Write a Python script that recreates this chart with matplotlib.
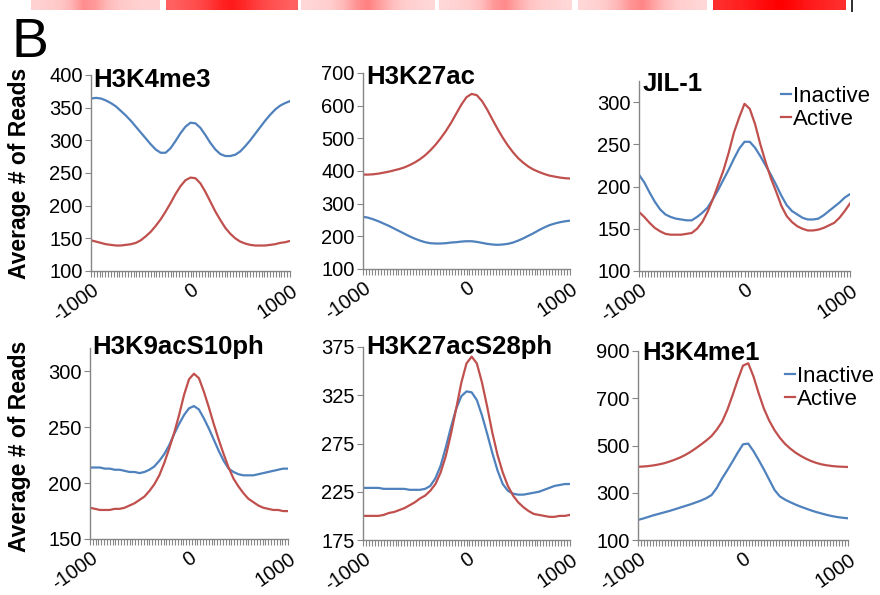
import numpy as np
import matplotlib
matplotlib.use("Agg")
import matplotlib.pyplot as plt
from matplotlib.colors import LinearSegmentedColormap

plt.rcParams['font.family'] = ['Liberation Sans', 'DejaVu Sans']

# ---------------- data ----------------
positions = list(range(-1000, 1001, 50))
xtick_labels = ["-1000", "0", "1000"]
xtick_values = [-1000, 0, 1000]
series_names = ["Inactive", "Active"]

h3k4me3_inactive = [364, 365, 364, 361, 357, 352, 345, 338, 330, 321, 312, 303, 294, 286, 281, 281,
                    288, 299, 311, 321, 327, 326, 319, 308, 296, 286, 279, 276, 276, 278, 283, 291,
                    300, 310, 320, 330, 339, 347, 353, 357, 360]
h3k4me3_active = [147, 145, 143, 141, 140, 139, 139, 140, 141, 143, 147, 153, 160, 169, 179, 191,
                  204, 218, 230, 239, 243, 242, 234, 221, 206, 191, 178, 166, 157, 150, 145, 142,
                  140, 139, 139, 139, 140, 141, 143, 144, 146]

h3k27ac_inactive = [260, 257, 252, 246, 239, 232, 224, 216, 208, 200, 193, 187, 182, 179, 178, 178,
                    179, 181, 182, 184, 185, 185, 183, 180, 177, 175, 174, 175, 177, 181, 187, 194,
                    202, 210, 219, 227, 234, 239, 243, 246, 248]
h3k27ac_active = [389, 389, 390, 392, 395, 398, 402, 406, 411, 418, 426, 436, 448, 463, 480, 500,
                  522, 547, 575, 603, 626, 636, 632, 614, 588, 558, 529, 502, 478, 457, 439, 425,
                  413, 404, 397, 391, 386, 383, 380, 378, 377]

jil1_inactive = [214, 205, 193, 182, 173, 167, 164, 162, 161, 160, 160, 164, 169, 175, 185, 196,
                 208, 220, 233, 245, 253, 253, 246, 236, 225, 214, 202, 189, 178, 171, 167, 163,
                 161, 161, 162, 166, 171, 176, 181, 187, 191]
jil1_active = [170, 164, 157, 151, 147, 144, 143, 143, 143, 144, 145, 150, 158, 170, 185, 202,
               219, 240, 264, 282, 298, 292, 274, 250, 229, 210, 194, 177, 165, 158, 153, 150,
               148, 148, 149, 151, 154, 157, 163, 171, 180]

h3k9ac_inactive = [214, 214, 214, 213, 213, 212, 212, 211, 210, 210, 209, 210, 212, 215, 220, 226,
                   234, 244, 253, 261, 267, 269, 266, 258, 249, 239, 229, 220, 213, 210, 208, 207,
                   207, 207, 208, 209, 210, 211, 212, 213, 213]
h3k9ac_active = [178, 177, 176, 176, 176, 177, 177, 178, 180, 182, 185, 188, 193, 199, 207, 218,
                 231, 245, 261, 279, 293, 298, 294, 282, 268, 253, 239, 226, 214, 204, 197, 191,
                 186, 183, 180, 178, 177, 176, 176, 175, 175]

h3k27s28_inactive = [229, 229, 229, 229, 228, 228, 228, 228, 228, 227, 227, 227, 228, 231, 239, 252,
                     271, 292, 311, 324, 329, 328, 320, 304, 285, 265, 247, 233, 226, 223, 222, 222,
                     223, 224, 225, 227, 229, 231, 232, 233, 233]
h3k27s28_active = [200, 200, 200, 200, 201, 203, 204, 206, 208, 211, 214, 218, 221, 226, 233, 245,
                   262, 285, 311, 338, 358, 365, 358, 338, 313, 286, 263, 245, 231, 221, 214, 209,
                   205, 202, 201, 200, 199, 199, 200, 200, 201]

h3k4me1_inactive = [185, 191, 198, 205, 211, 217, 223, 230, 237, 244, 251, 259, 267, 277, 290, 320,
                    360, 395, 432, 470, 505, 508, 476, 438, 398, 355, 312, 285, 271, 260, 250, 241,
                    233, 225, 218, 212, 206, 201, 197, 194, 192]
h3k4me1_active = [410, 411, 413, 416, 420, 425, 432, 440, 449, 460, 473, 488, 504, 521, 540, 567,
                  600, 650, 712, 778, 838, 848, 792, 720, 655, 605, 565, 533, 507, 487, 470, 456,
                  444, 434, 426, 420, 416, 413, 411, 410, 409]

# heatmap strip intensity profiles (cropped top panel)
strip_1 = [0.18, 0.2, 0.22, 0.3, 0.45, 0.4, 0.28, 0.22, 0.2, 0.18, 0.18]
strip_2 = [0.62, 0.66, 0.7, 0.76, 0.85, 0.9, 0.84, 0.76, 0.7, 0.66, 0.62]
strip_3 = [0.16, 0.18, 0.2, 0.28, 0.42, 0.5, 0.38, 0.26, 0.2, 0.18, 0.16]
strip_4 = [0.16, 0.18, 0.2, 0.26, 0.4, 0.46, 0.34, 0.24, 0.2, 0.18, 0.16]
strip_5 = [0.16, 0.18, 0.22, 0.3, 0.42, 0.48, 0.36, 0.26, 0.2, 0.18, 0.16]
strip_6 = [0.82, 0.85, 0.88, 0.92, 0.97, 1.0, 0.97, 0.92, 0.88, 0.85, 0.82]

# ---------------- layout ----------------
W, H = 880, 595
fig = plt.figure(figsize=(W / 100, H / 100), dpi=100)
fig.patch.set_facecolor('white')

def px_axes(x0, x1, ytop, ybot):
    return fig.add_axes([x0 / W, 1 - ybot / H, (x1 - x0) / W, (ybot - ytop) / H])

BLUE = '#4F81BD'
RED = '#C0504D'
GRAY = '#868686'

panels = [
    dict(title="H3K4me3", inactive=h3k4me3_inactive, active=h3k4me3_active,
         box=(91, 290, 75, 271), ylim=(100, 400), yticks=range(100, 401, 50),
         title_xy=(93, 87), legend=None),
    dict(title="H3K27ac", inactive=h3k27ac_inactive, active=h3k27ac_active,
         box=(363, 570, 73, 269), ylim=(100, 700), yticks=range(100, 701, 100),
         title_xy=(366, 84), legend=None),
    dict(title="JIL-1", inactive=jil1_inactive, active=jil1_active,
         box=(639, 850, 81, 271), ylim=(100, 325), yticks=range(100, 301, 50),
         title_xy=(643, 91), legend=(781, 86)),
    dict(title="H3K9acS10ph", inactive=h3k9ac_inactive, active=h3k9ac_active,
         box=(90, 288, 348, 539), ylim=(150, 321), yticks=range(150, 301, 50),
         title_xy=(92, 354), legend=None),
    dict(title="H3K27acS28ph", inactive=h3k27s28_inactive, active=h3k27s28_active,
         box=(363, 570, 347, 540), ylim=(175, 375), yticks=range(175, 376, 50),
         title_xy=(366, 354), legend=None),
    dict(title="H3K4me1", inactive=h3k4me1_inactive, active=h3k4me1_active,
         box=(638, 848, 351, 540), ylim=(100, 900), yticks=range(100, 901, 200),
         title_xy=(642, 360), legend=(785, 366)),
]

minor_ticks = np.linspace(-1000, 1000, 71)

for p in panels:
    ax = px_axes(*p['box'])
    l1, = ax.plot(positions, p['inactive'], color=BLUE, lw=1.6, label=series_names[0])
    l2, = ax.plot(positions, p['active'], color=RED, lw=1.6, label=series_names[1])
    ax.set_xlim(-1000, 1000)
    ax.set_ylim(*p['ylim'])
    ax.set_yticks(list(p['yticks']))
    ax.set_xticks(xtick_values)
    ax.set_xticks(minor_ticks, minor=True)
    ax.set_xticklabels(xtick_labels, rotation=35, ha='right', va='top',
                       rotation_mode='anchor')
    for s in ['top', 'right']:
        ax.spines[s].set_visible(False)
    for s in ['left', 'bottom']:
        ax.spines[s].set_color(GRAY)
        ax.spines[s].set_linewidth(1.0)
    ax.tick_params(axis='both', which='both', direction='out', color=GRAY, width=0.8)
    ax.tick_params(axis='x', which='both', length=4, labelsize=14.5, pad=3)
    ax.tick_params(axis='y', length=4, labelsize=14.5, pad=2)
    ax.patch.set_alpha(0)
    fig.text(p['title_xy'][0] / W, 1 - p['title_xy'][1] / H, p['title'],
             fontsize=18.5, fontweight='bold', ha='left', va='baseline')
    if p['legend'] is not None:
        fig.legend(handles=[l1, l2], loc='upper left',
                   bbox_to_anchor=(p['legend'][0] / W, 1 - p['legend'][1] / H),
                   frameon=False, fontsize=16, handlelength=0.45, handletextpad=0.1,
                   labelspacing=0.1, borderpad=0, borderaxespad=0)

# y labels
for yc in [173, 446]:
    fig.text(20 / W, 1 - yc / H, "Average # of Reads", rotation=90, fontsize=16.5,
             fontweight='bold', ha='center', va='center')

# panel letter
fig.text(11 / W, 1 - 57 / H, "B", fontsize=40, ha='left', va='baseline')

# heatmap strip at the top
cmap = LinearSegmentedColormap.from_list('wr', ['#ffffff', '#ff0000'])
strips = [strip_1, strip_2, strip_3, strip_4, strip_5, strip_6]
strip_x = [(31, 160), (166, 297), (301, 435), (439, 572), (578, 707), (713, 845)]
for prof, (x0, x1) in zip(strips, strip_x):
    sax = px_axes(x0, x1, 0, 10)
    arr = np.array(prof)[None, :].repeat(3, axis=0)
    sax.imshow(arr, cmap=cmap, vmin=0, vmax=1, aspect='auto', interpolation='bilinear')
    sax.axis('off')
lax = px_axes(851, 853, 0, 12)
lax.axvline(0.5, color='#333333', lw=1.5)
lax.set_xlim(0, 1)
lax.axis('off')

fig.savefig('out.png', dpi=100, facecolor='white')
